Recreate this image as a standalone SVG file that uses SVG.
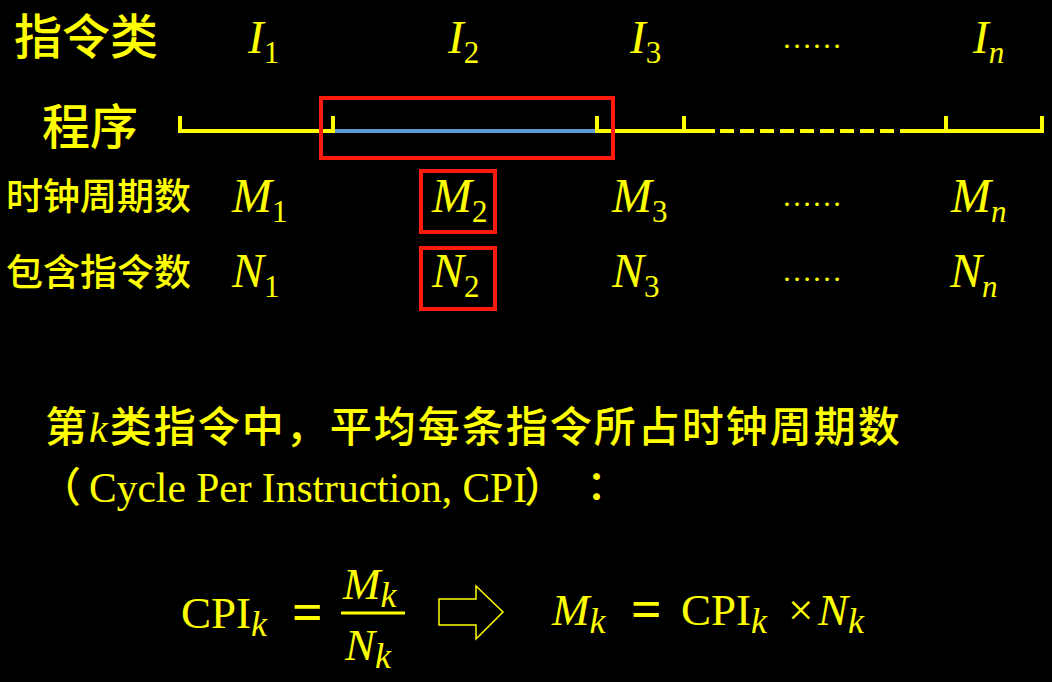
<svg xmlns="http://www.w3.org/2000/svg" width="1052" height="682" viewBox="0 0 1052 682">
<style>
.cjk{font-family:"Noto Sans CJK SC","Liberation Sans",sans-serif;fill:#ffff00;font-weight:500;}
.tm{font-family:"Liberation Serif","Noto Sans CJK SC",serif;fill:#ffff00;}
.it{font-style:italic;}
.eq{font-weight:bold;}
.line{stroke:#ffff00;stroke-width:4;fill:none;}
.red{stroke:#ff1a0a;stroke-width:4;fill:none;}
</style>
<rect x="0" y="0" width="1052" height="682" fill="#000"/>
<g id="row-labels">
<text class="cjk" x="14" y="54" font-size="48">指令类</text>
<text class="cjk" x="42" y="144" font-size="48">程序</text>
<text class="cjk" x="6" y="210" font-size="37">时钟周期数</text>
<text class="cjk" x="6" y="286" font-size="37">包含指令数</text>
</g>
<g id="instr-row">
<text class="tm" x="248" y="53" font-size="47"><tspan class="it">I</tspan><tspan font-size="31" dy="10">1</tspan></text>
<text class="tm" x="448" y="53" font-size="47"><tspan class="it">I</tspan><tspan font-size="31" dy="10">2</tspan></text>
<text class="tm" x="630" y="53" font-size="47"><tspan class="it">I</tspan><tspan font-size="31" dy="10">3</tspan></text>
<text class="tm" x="782" y="48" font-size="30">……</text>
<text class="tm" x="973" y="53" font-size="47"><tspan class="it">I</tspan><tspan font-size="31" dy="10" class="it">n</tspan></text>
</g>
<g id="program-line">
<polyline class="line" points="180,116 180,131 335,131"/>
<line class="line" x1="333" y1="116" x2="333" y2="131"/>
<line x1="335" y1="131" x2="596" y2="131" stroke="#5b9bd5" stroke-width="4"/>
<polyline class="line" points="597,116 597,131 715,131"/>
<line class="line" x1="684" y1="116" x2="684" y2="131"/>
<line class="line" x1="720" y1="131" x2="902" y2="131" stroke-dasharray="14,6"/>
<polyline class="line" points="902,131 1042,131 1042,116"/>
<line class="line" x1="946" y1="116" x2="946" y2="131"/>
</g>
<g id="highlight-box">
<rect class="red" x="321" y="98" width="292" height="60"/>
</g>
<g id="cycles-row">
<text class="tm" x="232" y="212" font-size="48"><tspan class="it">M</tspan><tspan font-size="31" dy="10">1</tspan></text>
<text class="tm" x="432" y="212" font-size="48"><tspan class="it">M</tspan><tspan font-size="31" dy="10">2</tspan></text>
<text class="tm" x="612" y="212" font-size="48"><tspan class="it">M</tspan><tspan font-size="31" dy="10">3</tspan></text>
<text class="tm" x="782" y="206" font-size="30">……</text>
<text class="tm" x="951" y="212" font-size="48"><tspan class="it">M</tspan><tspan font-size="31" dy="10" class="it">n</tspan></text>
</g>
<g id="count-row">
<text class="tm" x="232" y="287" font-size="48"><tspan class="it">N</tspan><tspan font-size="31" dy="10">1</tspan></text>
<text class="tm" x="432" y="287" font-size="48"><tspan class="it">N</tspan><tspan font-size="31" dy="10">2</tspan></text>
<text class="tm" x="612" y="287" font-size="48"><tspan class="it">N</tspan><tspan font-size="31" dy="10">3</tspan></text>
<text class="tm" x="782" y="281" font-size="30">……</text>
<text class="tm" x="950" y="287" font-size="48"><tspan class="it">N</tspan><tspan font-size="31" dy="10" class="it">n</tspan></text>
</g>
<g id="m2-box"><rect class="red" x="421" y="171" width="74" height="61"/></g>
<g id="n2-box"><rect class="red" x="421" y="248" width="74" height="61"/></g>
<g id="description">
<text class="cjk" x="45" y="442" font-size="42" letter-spacing="2">第<tspan class="tm it" font-size="42">k</tspan>类指令中，平均每条指令所占时钟周期数</text>
<text class="cjk" x="40" y="502" font-size="41">（</text>
<text class="tm" x="89" y="502" font-size="41.5">Cycle Per Instruction, CPI</text>
<text class="cjk" x="524" y="502" font-size="41">）</text>
<text class="cjk" x="576" y="502" font-size="41" style="font-family:'Noto Sans CJK JP',sans-serif">：</text>
</g>
<g id="formula">
<text class="tm" x="181" y="628" font-size="45">CPI<tspan class="it" font-size="36" dy="8">k</tspan></text>
<text class="tm eq" x="292" y="630" font-size="54">=</text>
<text class="tm it" x="343" y="599" font-size="45">M<tspan font-size="36" dy="8">k</tspan></text>
<line x1="341" y1="613" x2="405" y2="613" stroke="#ffff00" stroke-width="3"/>
<text class="tm it" x="345" y="660" font-size="45">N<tspan font-size="36" dy="8">k</tspan></text>
<polygon points="439,599 476,599 476,586 503,612 476,639 476,625 439,625" fill="none" stroke="#ffff00" stroke-width="1.5"/>
<text class="tm it" x="552" y="625" font-size="45">M<tspan font-size="36" dy="8">k</tspan></text>
<text class="tm eq" x="631" y="627" font-size="54">=</text>
<text class="tm" x="681" y="625" font-size="45">CPI<tspan class="it" font-size="36" dy="8">k</tspan></text>
<text class="tm" x="788" y="625" font-size="45">×</text>
<text class="tm it" x="818" y="625" font-size="45">N<tspan font-size="36" dy="8">k</tspan></text>
</g>
</svg>
